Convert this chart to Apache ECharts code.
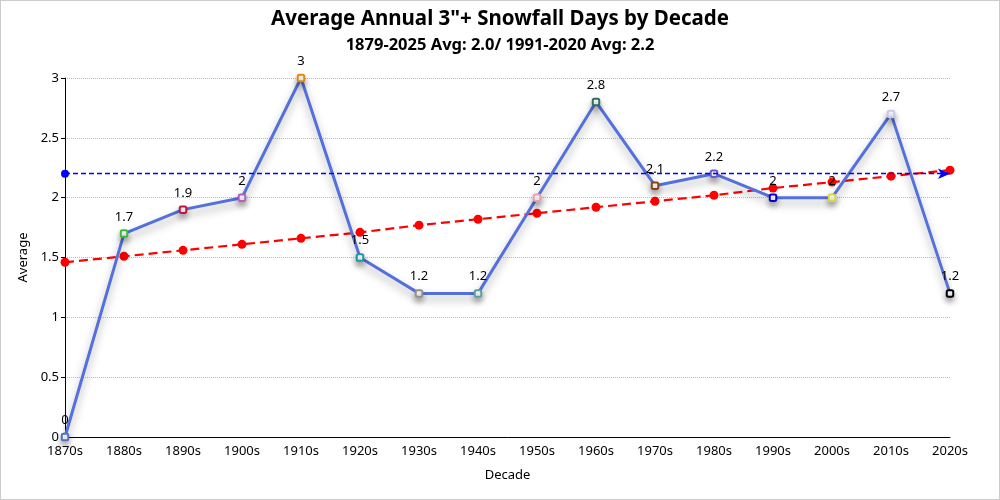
<!DOCTYPE html>
<html><head><meta charset="utf-8">
<script src="https://cdn.jsdelivr.net/npm/echarts@6/dist/echarts.min.js"></script>
<style>html,body{margin:0;padding:0;background:#fff}#c{width:998px;height:498px;border:1px solid #ccc}</style>
</head><body><div id="c"></div>
<script>
const categories = ['1870s','1880s','1890s','1900s','1910s','1920s','1930s','1940s','1950s','1960s','1970s','1980s','1990s','2000s','2010s','2020s'];
const averages = [0,1.7,1.9,2,3,1.5,1.2,1.2,2,2.8,2.1,2.2,2,2,2.7,1.2];
const trend = [1.46,1.51,1.56,1.61,1.66,1.71,1.77,1.82,1.87,1.92,1.97,2.02,2.08,2.13,2.18,2.23];
const normal1991_2020 = 2.2;
const pointColors = ['#5470c6','#3cb93c','#c0143c','#b060c0','#e08a10','#1a9a9a','#909090','#5f9ea0','#e8a0b0','#2f6f5f','#8b4513','#6a5acd','#0000cd','#d8d840','#c8c8e8','#000000'];
const titleText = 'Average Annual 3"+ Snowfall Days by Decade';
const subText = '1879-2025 Avg: 2.0/ 1991-2020 Avg: 2.2';
const FONT = '"Noto Sans", sans-serif';
const chart = echarts.init(document.getElementById('c'));
chart.setOption({
  animation:false,
  textStyle:{fontFamily:FONT},
  title:{text:titleText, subtext:subText, left:'center', top:3, itemGap:7,
    textStyle:{fontSize:20.5,fontWeight:'bold',color:'#000',fontFamily:FONT},
    subtextStyle:{fontSize:16.5,fontWeight:'bold',color:'#000',fontFamily:FONT}},
  grid:{left:64,right:49,top:77,bottom:62},
  xAxis:{type:'category',data:categories,boundaryGap:false,name:'Decade',nameLocation:'middle',nameGap:32,
    nameTextStyle:{color:'#000',fontSize:13},
    axisLine:{lineStyle:{color:'#000'}},axisTick:{show:false},
    axisLabel:{color:'#000',fontSize:13,margin:8}},
  yAxis:{type:'value',min:0,max:3,interval:0.5,name:'Average',nameLocation:'middle',nameGap:32,
    nameTextStyle:{color:'#000',fontSize:13},
    axisLine:{show:true,lineStyle:{color:'#000'}},axisTick:{show:true,length:4,lineStyle:{color:'#000'}},
    axisLabel:{color:'#000',fontSize:13,margin:6},
    splitLine:{lineStyle:{type:'dotted',color:'#bbb'}}},
  series:[
    {type:'line',name:'Average',data:averages.map((v,i)=>({value:v,itemStyle:{color:pointColors[i],borderColor:pointColors[i]}})),
      symbol:'emptyRoundRect',symbolSize:6.5,
      lineStyle:{color:'#5470dd',width:3,shadowColor:'rgba(0,0,0,0.35)',shadowBlur:8,shadowOffsetY:5},
      itemStyle:{borderWidth:2,shadowColor:'rgba(0,0,0,0.35)',shadowBlur:6,shadowOffsetY:4},
      label:{show:true,position:'top',color:'#000',fontSize:13,distance:6},
      z:3},
    {type:'line',name:'Trend',data:trend,symbol:'circle',symbolSize:9,
      lineStyle:{color:'#ff0000',width:2.2,type:[9,5]},
      itemStyle:{color:'#ff0000'},z:2,
      markLine:{silent:true,symbol:['circle','arrow'],symbolSize:[8,12],label:{show:false},
        itemStyle:{color:'rgb(0,0,255)'},
        lineStyle:{color:'rgb(0,0,255)',type:[5,3],width:1.3,opacity:1},
        data:[{yAxis:normal1991_2020,lineStyle:{color:'rgb(0,0,255)'}}]}}
  ]
});
</script></body></html>
